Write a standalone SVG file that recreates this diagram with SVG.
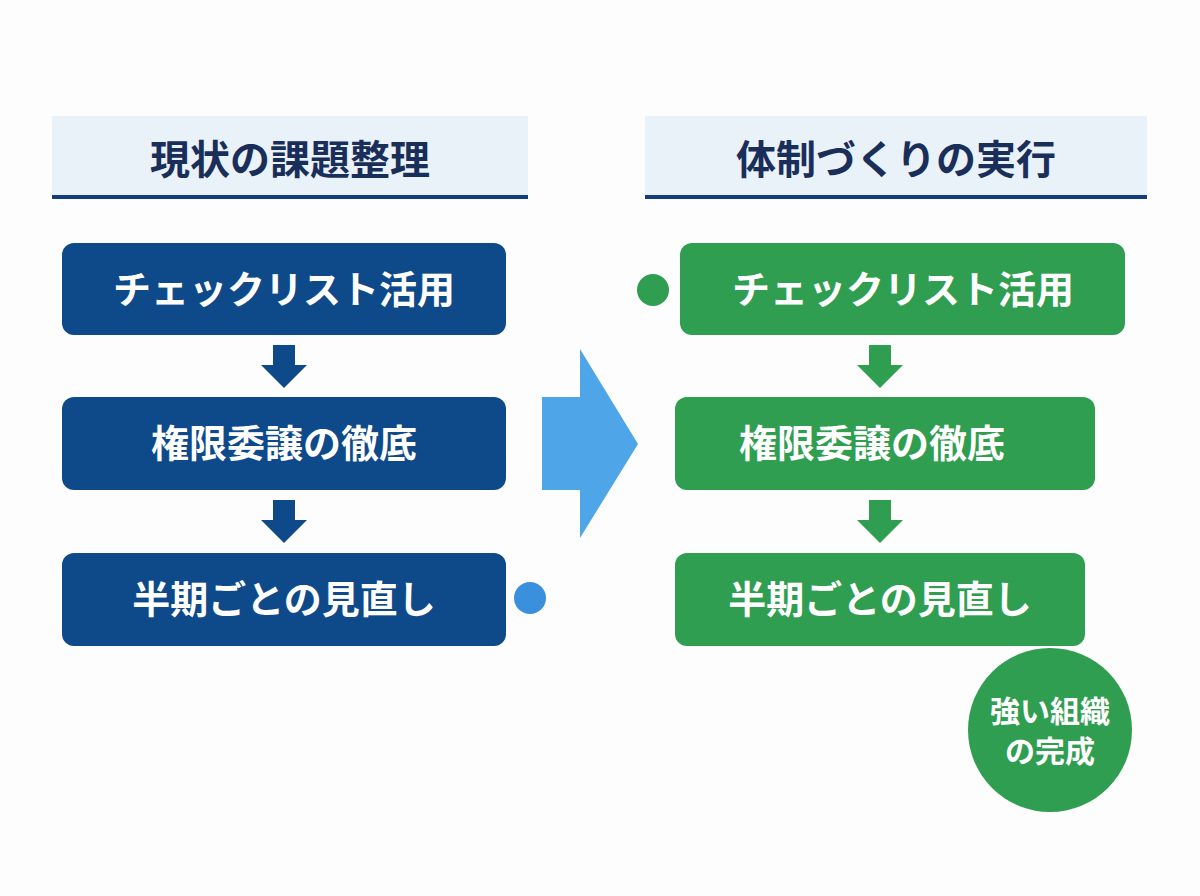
<svg xmlns="http://www.w3.org/2000/svg" width="1200" height="896" viewBox="0 0 1200 896">
<style>
.t{font-family:"Noto Sans CJK JP","Noto Sans",sans-serif;font-weight:bold;text-anchor:middle}
.h{font-size:40px;fill:#1a2e5a}
.b{font-size:38px;fill:#fff}
.blue{fill:#0e4a8a}
.green{fill:#2f9e50}
</style>
<rect width="1200" height="896" fill="#fdfdfd"/>
<g id="header-left">
<rect x="52" y="116" width="476" height="82" fill="#e9f1f9"/>
<rect x="52" y="195" width="476" height="4" fill="#123f7a"/>
<text class="t h" x="290" y="174">現状の課題整理</text>
</g>
<g id="header-right">
<rect x="645" y="116" width="502" height="82" fill="#e9f1f9"/>
<rect x="645" y="195" width="502" height="4" fill="#123f7a"/>
<text class="t h" x="896" y="174">体制づくりの実行</text>
</g>
<g id="l1"><rect class="blue" x="62" y="243" width="444" height="92" rx="12"/><text class="t b" x="284" y="303">チェックリスト活用</text></g>
<g id="l2"><rect class="blue" x="62" y="397" width="444" height="93" rx="12"/><text class="t b" x="284" y="457">権限委譲の徹底</text></g>
<g id="l3"><rect class="blue" x="62" y="553" width="444" height="93" rx="12"/><text class="t b" x="284" y="613">半期ごとの見直し</text></g>
<g id="r1"><rect class="green" x="680" y="243" width="445" height="92" rx="12"/><text class="t b" x="903" y="303">チェックリスト活用</text></g>
<g id="r2"><rect class="green" x="675" y="397" width="420" height="93" rx="12"/><text class="t b" x="872" y="457">権限委譲の徹底</text></g>
<g id="r3"><rect class="green" x="675" y="553" width="410" height="93" rx="12"/><text class="t b" x="880" y="613">半期ごとの見直し</text></g>
<g id="goal"><circle class="green" cx="1050" cy="730" r="82"/>
<text class="t" x="1050" y="722" font-size="30" fill="#fff">強い組織</text>
<text class="t" x="1050" y="762" font-size="30" fill="#fff">の完成</text></g>
<g id="connectors">
<polygon fill="#0e4a8a" points="273,345 295,345 295,365 307,365 284,388 261,365 273,365"/>
<polygon fill="#0e4a8a" points="273,500 295,500 295,520 307,520 284,543 261,520 273,520"/>
<polygon fill="#2f9e50" points="869,345 891,345 891,365 903,365 880,388 857,365 869,365"/>
<polygon fill="#2f9e50" points="869,500 891,500 891,520 903,520 880,543 857,520 869,520"/>
<polygon fill="#4ea6e8" points="542,397 580,397 580,349 638,444 580,538 580,490 542,490"/>
<circle cx="530" cy="598" r="16" fill="#3b90dd"/>
<circle cx="653" cy="290" r="16" fill="#2f9e50"/>
</g>
</svg>
